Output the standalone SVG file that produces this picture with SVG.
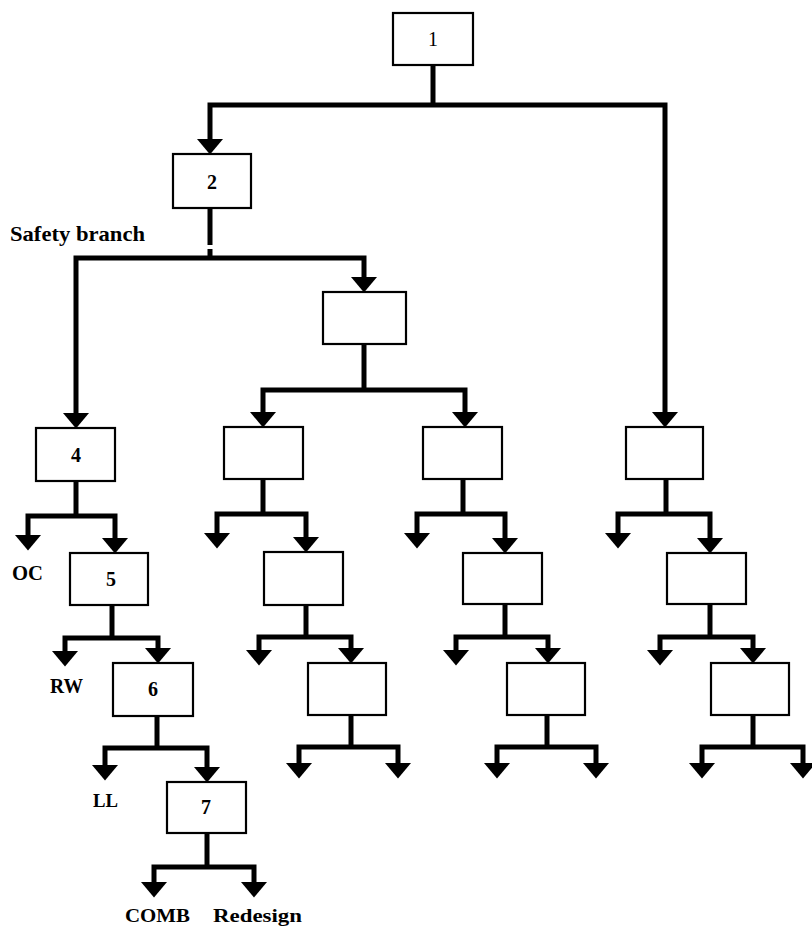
<svg xmlns="http://www.w3.org/2000/svg" width="812" height="928" viewBox="0 0 812 928">
<style>
  .box { fill: #fff; stroke: #000; stroke-width: 2.2; }
  .num { font-family: "Liberation Serif", "Times New Roman", serif; font-size: 20px; text-anchor: middle; fill: #000; font-weight: bold; }
  .lbl { font-family: "Liberation Serif", "Times New Roman", serif; font-size: 21px; font-weight: bold; fill: #000; }
  .con { fill: none; stroke: #000; stroke-width: 5; stroke-linejoin: miter; }
  .arr { marker-start: url(#ah); marker-end: url(#ah); }
</style>
<defs>
  <marker id="ah" markerUnits="userSpaceOnUse" viewBox="0 -14 16 28" markerWidth="16" markerHeight="28" refX="5" refY="0" orient="auto-start-reverse">
    <path d="M0,-13 L15.5,0 L0,13 Z" fill="#000"/>
  </marker>
</defs>
<rect width="812" height="928" fill="#fff"/>

<g id="connectors">
  <path class="con" d="M433,65 V105"/>
  <path class="con arr" d="M210,144 V105 H665 V417"/>
  <path class="con" d="M210,208 V245 M210,249 V258"/>
  <path class="con arr" d="M76,418 V258 H364 V282"/>
  <path class="con" d="M364,344 V390"/>
  <path class="con arr" d="M263,417 V390 H465 V417"/>
  <path class="con" d="M76,481 V516"/>
  <path class="con arr" d="M28,540 V516 H115 V543"/>
  <path class="con" d="M112,605 V638"/>
  <path class="con arr" d="M65,656 V638 H158 V653"/>
  <path class="con" d="M157,716 V748"/>
  <path class="con arr" d="M105,770 V748 H207 V772"/>
  <path class="con" d="M207,833 V867"/>
  <path class="con arr" d="M154,887 V867 H254 V887"/>
  <path class="con" d="M263,479 V514"/>
  <path class="con arr" d="M217,538 V514 H306 V542"/>
  <path class="con" d="M306,605 V637"/>
  <path class="con arr" d="M259,655 V637 H351 V653"/>
  <path class="con" d="M351,715 V747"/>
  <path class="con arr" d="M299,768 V747 H398 V768"/>
  <path class="con" d="M463,479 V514"/>
  <path class="con arr" d="M417,538 V514 H505 V543"/>
  <path class="con" d="M505,604 V637"/>
  <path class="con arr" d="M456,655 V637 H548 V653"/>
  <path class="con" d="M547,715 V747"/>
  <path class="con arr" d="M497,768 V747 H596 V768"/>
  <path class="con" d="M666,479 V514"/>
  <path class="con arr" d="M618,538 V514 H710 V543"/>
  <path class="con" d="M710,604 V637"/>
  <path class="con arr" d="M660,655 V637 H753 V653"/>
  <path class="con" d="M753,715 V747"/>
  <path class="con arr" d="M702,768 V747 H803 V768"/>
</g>

<g id="n1"><rect class="box" x="393" y="13" width="80" height="52"/><text class="num" x="433" y="46" style="font-weight:normal">1</text></g>
<g id="n2"><rect class="box" x="173" y="154" width="78" height="54"/><text class="num" x="212" y="189">2</text></g>
<g id="n3"><rect class="box" x="323" y="292" width="83" height="52"/></g>
<g id="n4"><rect class="box" x="36" y="428" width="79" height="53"/><text class="num" x="76" y="462">4</text></g>
<g id="n5"><rect class="box" x="70" y="553" width="78" height="52"/><text class="num" x="111" y="586">5</text></g>
<g id="n6"><rect class="box" x="113" y="663" width="80" height="53"/><text class="num" x="153" y="696">6</text></g>
<g id="n7"><rect class="box" x="167" y="782" width="79" height="51"/><text class="num" x="206" y="814">7</text></g>
<g id="a1"><rect class="box" x="224" y="427" width="79" height="52"/></g>
<g id="a2"><rect class="box" x="264" y="552" width="79" height="53"/></g>
<g id="a3"><rect class="box" x="308" y="663" width="78" height="52"/></g>
<g id="b1"><rect class="box" x="423" y="427" width="79" height="52"/></g>
<g id="b2"><rect class="box" x="463" y="553" width="79" height="51"/></g>
<g id="b3"><rect class="box" x="507" y="663" width="78" height="52"/></g>
<g id="c1"><rect class="box" x="626" y="427" width="77" height="52"/></g>
<g id="c2"><rect class="box" x="667" y="553" width="79" height="51"/></g>
<g id="c3"><rect class="box" x="711" y="663" width="78" height="52"/></g>

<g id="labels">
  <text class="lbl" x="10" y="241" textLength="135" lengthAdjust="spacingAndGlyphs">Safety branch</text>
  <text class="lbl" x="12" y="580" textLength="31" lengthAdjust="spacingAndGlyphs">OC</text>
  <text class="lbl" x="50" y="693" textLength="33" lengthAdjust="spacingAndGlyphs">RW</text>
  <text class="lbl" x="93" y="807" style="font-size:18px" textLength="25" lengthAdjust="spacingAndGlyphs">LL</text>
  <text class="lbl" x="125" y="922" style="font-size:19px" textLength="65" lengthAdjust="spacingAndGlyphs">COMB</text>
  <text class="lbl" x="213" y="922" style="font-size:19px" textLength="89" lengthAdjust="spacingAndGlyphs">Redesign</text>
</g>
</svg>
